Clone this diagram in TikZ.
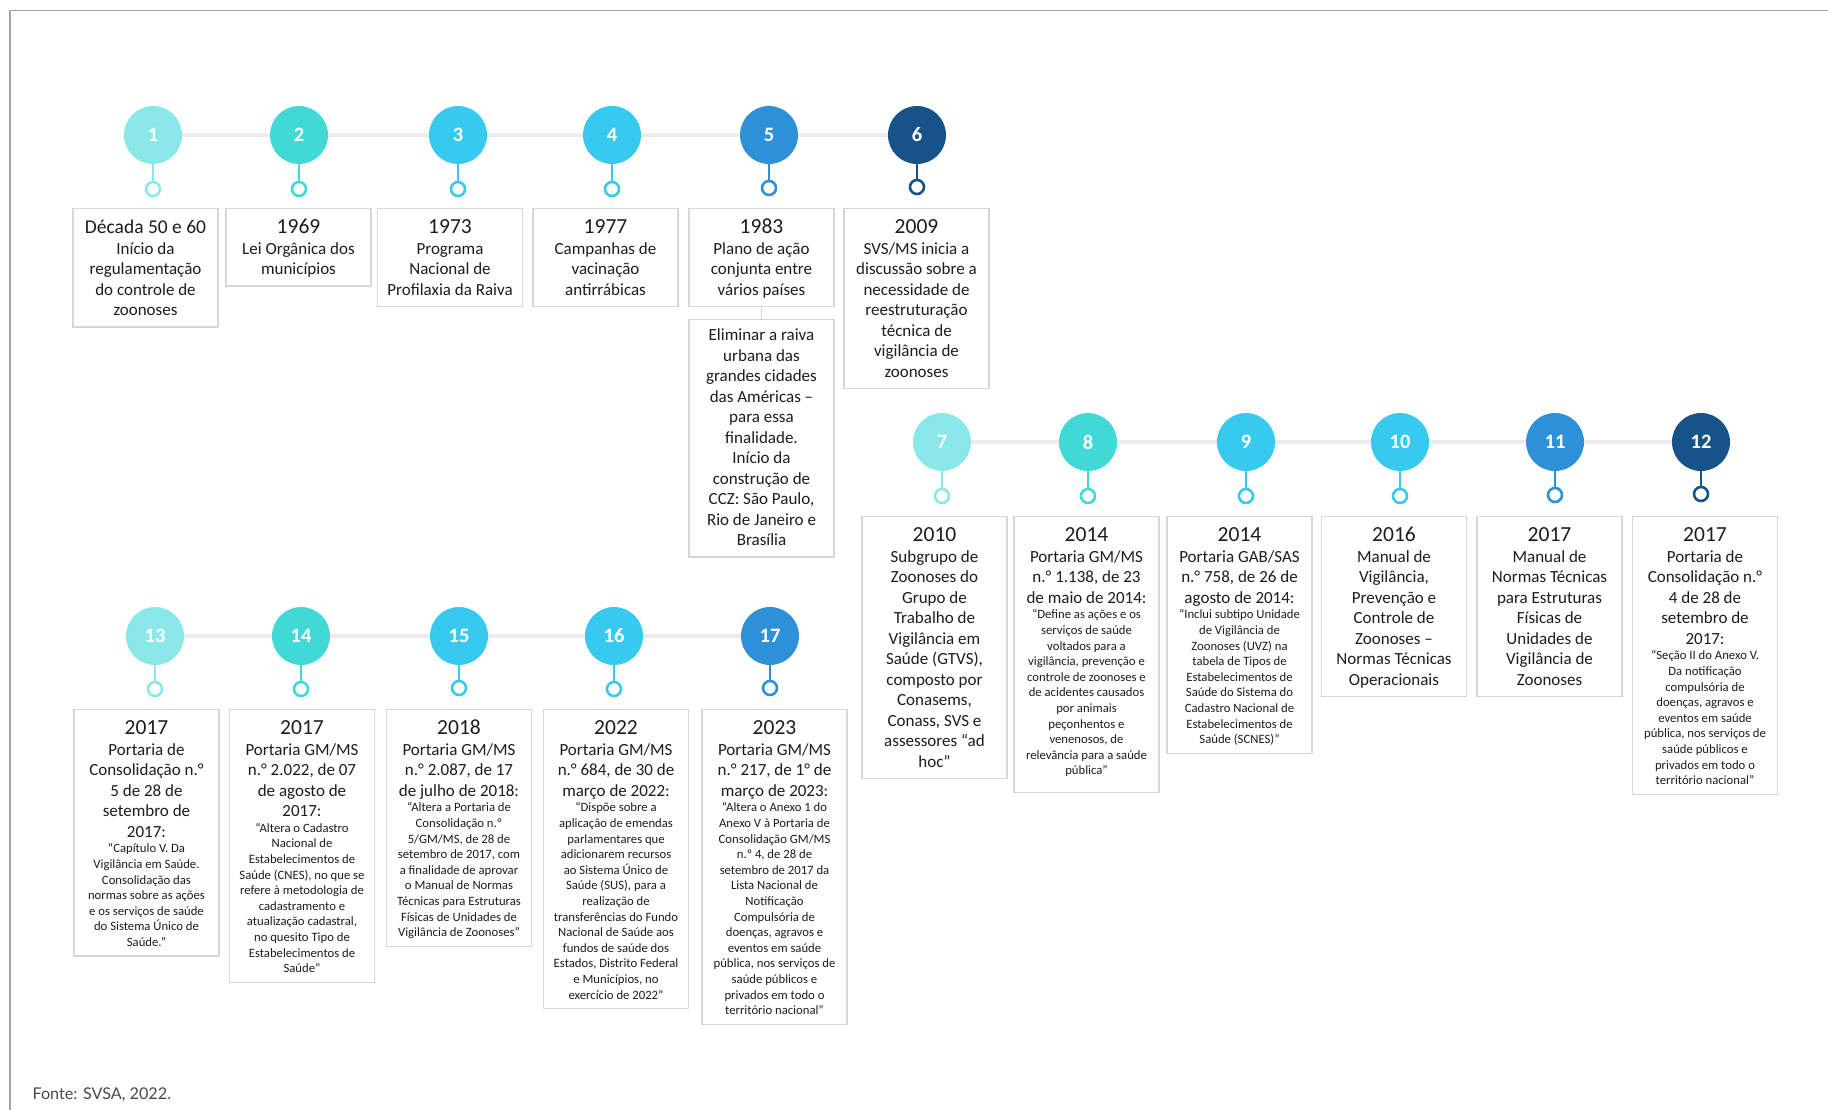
\documentclass[tikz,border=0pt]{standalone}
\usepackage{fontspec}
\setmainfont{Carlito}
\newfontfamily\srcfont{Lato}
\usepackage{tikz}

\definecolor{tone1}{HTML}{8AE8E8}
\definecolor{tone2}{HTML}{40D9D6}
\definecolor{tone3}{HTML}{38C9EF}
\definecolor{tone4}{HTML}{2E91D7}
\definecolor{tone5}{HTML}{165389}
\definecolor{trackgray}{HTML}{EBEBEB}
\definecolor{cardgray}{HTML}{D6D6D6}
\definecolor{framegray}{HTML}{A3A3A3}
\definecolor{inkgray}{HTML}{1C1C1C}

\newcommand{\yr}[1]{{\fontsize{21.5}{24}\selectfont\rule{0pt}{20pt}#1}\\}
\newcommand{\quo}[1]{\par{\fontsize{12.7}{15.6}\selectfont #1\strut\par}}

\begin{document}
\begin{tikzpicture}[x=1pt,y=-1pt,
    num/.style={circle, fill=#1, minimum size=58pt, inner sep=0pt, text=white,
        font=\bfseries\fontsize{20.5}{20.5}\selectfont},
    pin/.style={circle, draw=#1, line width=2.6pt, fill=white, minimum size=14pt, inner sep=0pt},
    stem/.style={draw=#1, line width=2.6pt},
    track/.style={line width=4pt, trackgray},
    card/.style={draw=cardgray, line width=1.4pt, anchor=north, text width=139pt,
        inner xsep=3pt, inner ysep=5pt, align=flush center, text=inkgray,
        font=\fontsize{17}{20.5}\selectfont}]
\useasboundingbox (0,0) rectangle (1828,1110);
\draw[framegray, line width=1.5pt] (10,1110) -- (10,10.5) -- (1828,10.5);

% row 1
\node[num=tone1] (c1) at (153,135) {1};
\node[num=tone2] (c2) at (299,135) {2};
\node[num=tone3] (c3) at (458,135) {3};
\node[num=tone3] (c4) at (612,135) {4};
\node[num=tone4] (c5) at (769,135) {5};
\node[num=tone5] (c6) at (917,135) {6};
\draw[track] (c1) -- (c2); \draw[track] (c2) -- (c3); \draw[track] (c3) -- (c4);
\draw[track] (c4) -- (c5); \draw[track] (c5) -- (c6);
\node[pin=tone1] (d1) at (153,189) {};
\node[pin=tone2] (d2) at (299,189) {};
\node[pin=tone3] (d3) at (458,189) {};
\node[pin=tone3] (d4) at (612,189) {};
\node[pin=tone4] (d5) at (769,188) {};
\node[pin=tone5] (d6) at (917,187) {};
\draw[stem=tone1] (c1) -- (d1); \draw[stem=tone2] (c2) -- (d2);
\draw[stem=tone3] (c3) -- (d3); \draw[stem=tone3] (c4) -- (d4);
\draw[stem=tone4] (c5) -- (d5); \draw[stem=tone5] (c6) -- (d6);

\node[card] (b1) at (145.5,208) {{\fontsize{19.5}{24}\selectfont\rule{0pt}{20pt}Década 50 e 60}\\Início da\\regulamentação\\do controle de\\zoonoses\strut};
\node[card] (b2) at (298.5,208) {\yr{1969}Lei Orgânica dos\\municípios\strut};
\node[card] (b3) at (450,208) {\yr{1973}Programa\\Nacional de\\Profilaxia da Raiva\strut};
\node[card] (b4) at (605.5,208) {\yr{1977}Campanhas de\\vacinação\\antirrábicas\strut};
\node[card] (b5) at (761.5,208) {\yr{1983}Plano de ação\\conjunta entre\\vários países\strut};
\node[card] (b5x) at (761.5,319) {\rule{0pt}{16pt}Eliminar a raiva\\urbana das\\grandes cidades\\das Américas –\\para essa\\finalidade.\\Início da\\construção de\\CCZ: São Paulo,\\Rio de Janeiro e\\Brasília\strut};
\draw[cardgray, line width=1.4pt] (b5) -- (b5x);
\node[card] (b6) at (916.5,208) {\yr{2009}SVS/MS inicia a\\discussão sobre a\\necessidade de\\reestruturação\\técnica de\\vigilância de\\zoonoses\strut};

% row 2
\node[num=tone1] (c7) at (942,442) {7};
\node[num=tone2] (c8) at (1088,442) {8};
\node[num=tone3] (c9) at (1246,442) {9};
\node[num=tone3] (c10) at (1400,442) {10};
\node[num=tone4] (c11) at (1555,442) {11};
\node[num=tone5] (c12) at (1701,442) {12};
\draw[track] (c7) -- (c8); \draw[track] (c8) -- (c9); \draw[track] (c9) -- (c10);
\draw[track] (c10) -- (c11); \draw[track] (c11) -- (c12);
\node[pin=tone1] (d7) at (942,496) {};
\node[pin=tone2] (d8) at (1088,496) {};
\node[pin=tone3] (d9) at (1246,496) {};
\node[pin=tone3] (d10) at (1400,496) {};
\node[pin=tone4] (d11) at (1555,495) {};
\node[pin=tone5] (d12) at (1701,494) {};
\draw[stem=tone1] (c7) -- (d7); \draw[stem=tone2] (c8) -- (d8);
\draw[stem=tone3] (c9) -- (d9); \draw[stem=tone3] (c10) -- (d10);
\draw[stem=tone4] (c11) -- (d11); \draw[stem=tone5] (c12) -- (d12);

\node[card] (b7) at (934.5,516) {\yr{2010}Subgrupo de\\Zoonoses do\\Grupo de\\Trabalho de\\Vigilância em\\Saúde (GTVS),\\composto por\\Conasems,\\Conass, SVS e\\assessores “ad\\hoc”\strut};
\node[card] (b8) at (1086.5,516) {\yr{2014}Portaria GM/MS\\n.° 1.138, de 23\\de maio de 2014:
    \quo{“Define as ações e os\\serviços de saúde\\voltados para a\\vigilância, prevenção e\\controle de zoonoses e\\de acidentes causados\\por animais\\peçonhentos e\\venenosos, de\\relevância para a saúde\\pública”}\vspace{8pt}};
\node[card] (b9) at (1239.5,516) {\yr{2014}Portaria GAB/SAS\\n.° 758, de 26 de\\agosto de 2014:
    \quo{“Inclui subtipo Unidade\\de Vigilância de\\Zoonoses (UVZ) na\\tabela de Tipos de\\Estabelecimentos de\\Saúde do Sistema do\\Cadastro Nacional de\\Estabelecimentos de\\Saúde (SCNES)”}};
\node[card] (b10) at (1394,516) {\yr{2016}Manual de\\Vigilância,\\Prevenção e\\Controle de\\Zoonoses –\\Normas Técnicas\\Operacionais\strut};
\node[card] (b11) at (1549.5,516) {\yr{2017}Manual de\\Normas Técnicas\\para Estruturas\\Físicas de\\Unidades de\\Vigilância de\\Zoonoses\strut};
\node[card] (b12) at (1705,516) {\yr{2017}Portaria de\\Consolidação n.°\\4 de 28 de\\setembro de\\2017:
    \quo{“Seção II do Anexo V.\\Da notificação\\compulsória de\\doenças, agravos e\\eventos em saúde\\pública, nos serviços de\\saúde públicos e\\privados em todo o\\território nacional”}};

% row 3
\node[num=tone1] (c13) at (155,636) {13};
\node[num=tone2] (c14) at (301,636) {14};
\node[num=tone3] (c15) at (459,636) {15};
\node[num=tone3] (c16) at (614,636) {16};
\node[num=tone4] (c17) at (770,636) {17};
\draw[track] (c13) -- (c14); \draw[track] (c14) -- (c15);
\draw[track] (c15) -- (c16); \draw[track] (c16) -- (c17);
\node[pin=tone1] (d13) at (155,689) {};
\node[pin=tone2] (d14) at (301,689) {};
\node[pin=tone3] (d15) at (459,688) {};
\node[pin=tone3] (d16) at (614,689) {};
\node[pin=tone4] (d17) at (770,688) {};
\draw[stem=tone1] (c13) -- (d13); \draw[stem=tone2] (c14) -- (d14);
\draw[stem=tone3] (c15) -- (d15); \draw[stem=tone3] (c16) -- (d16);
\draw[stem=tone4] (c17) -- (d17);

\node[card] (b13) at (146.5,709) {\yr{2017}Portaria de\\Consolidação n.°\\5 de 28 de\\setembro de\\2017:
    \quo{“Capítulo V. Da\\Vigilância em Saúde.\\Consolidação das\\normas sobre as ações\\e os serviços de saúde\\do Sistema Único de\\Saúde.”}};
\node[card] (b14) at (302,709) {\yr{2017}Portaria GM/MS\\n.° 2.022, de 07\\de agosto de\\2017:
    \quo{“Altera o Cadastro\\Nacional de\\Estabelecimentos de\\Saúde (CNES), no que se\\refere à metodologia de\\cadastramento e\\atualização cadastral,\\no quesito Tipo de\\Estabelecimentos de\\Saúde”}};
\node[card] (b15) at (459,709) {\yr{2018}Portaria GM/MS\\n.° 2.087, de 17\\de julho de 2018:
    \quo{“Altera a Portaria de\\Consolidação n.º\\5/GM/MS, de 28 de\\setembro de 2017, com\\a finalidade de aprovar\\o Manual de Normas\\Técnicas para Estruturas\\Físicas de Unidades de\\Vigilância de Zoonoses”}};
\node[card] (b16) at (616,709) {\yr{2022}Portaria GM/MS\\n.° 684, de 30 de\\março de 2022:
    \quo{“Dispõe sobre a\\aplicação de emendas\\parlamentares que\\adicionarem recursos\\ao Sistema Único de\\Saúde (SUS), para a\\realização de\\transferências do Fundo\\Nacional de Saúde aos\\fundos de saúde dos\\Estados, Distrito Federal\\e Municípios, no\\exercício de 2022”}};
\node[card] (b17) at (774.5,709) {\yr{2023}Portaria GM/MS\\n.° 217, de 1° de\\março de 2023:
    \quo{“Altera o Anexo 1 do\\Anexo V à Portaria de\\Consolidação GM/MS\\n.º 4, de 28 de\\setembro de 2017 da\\Lista Nacional de\\Notificação\\Compulsória de\\doenças, agravos e\\eventos em saúde\\pública, nos serviços de\\saúde públicos e\\privados em todo o\\território nacional”}};

\node[anchor=base west, text=inkgray!80, font=\srcfont\fontsize{16.2}{18}\selectfont] (src) at (29,1099) {Fonte: SVSA, 2022.};
\end{tikzpicture}
\end{document}
